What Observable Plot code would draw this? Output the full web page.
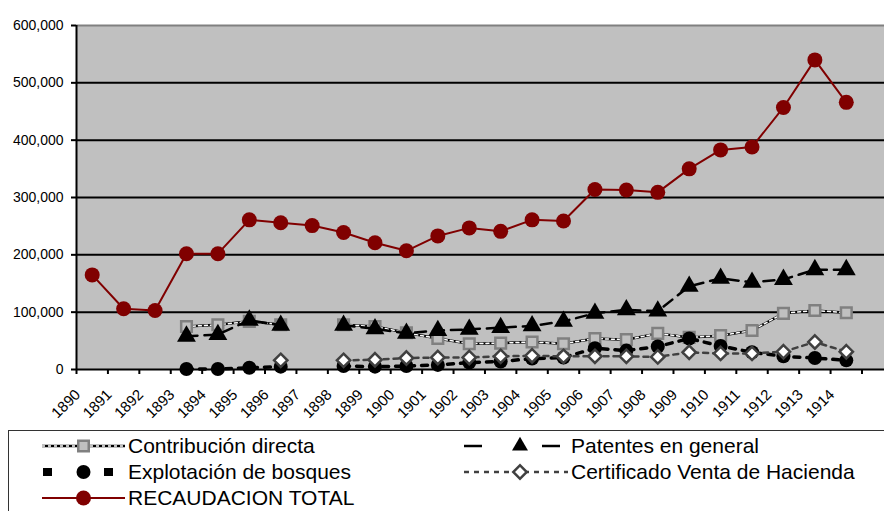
<!DOCTYPE html>
<html><head><meta charset="utf-8">
<script src="https://cdn.jsdelivr.net/npm/d3@7"></script>
<script src="https://cdn.jsdelivr.net/npm/@observablehq/plot@0.6"></script>
<style>
body{margin:0;background:#fff;font-family:"Liberation Sans",Arial,sans-serif;}
#chart svg,#legend svg{display:block}
</style></head><body><div id="chart"></div><div id="legend"></div>
<script>
const years = [1890,1891,1892,1893,1894,1895,1896,1897,1898,1899,1900,1901,1902,1903,1904,1905,1906,1907,1908,1909,1910,1911,1912,1913,1914];
const recaudacionTotal = [165000,106000,103000,202000,202000,261000,256000,251000,239000,221000,207000,233000,247000,241000,261000,259000,314000,313000,309000,350000,383000,388000,457000,540000,466000];
const contribucionDirecta = [null,null,null,75000,78000,84000,78000,null,78000,75000,64000,54000,45000,46000,48000,45000,54000,52000,63000,56000,59000,68000,98000,103000,99000];
const patentesGeneral = [null,null,null,58000,61000,86000,77000,null,77000,71000,63000,68000,70000,73000,76000,84000,98000,104000,102000,145000,159000,152000,157000,174000,174000];
const explotacionBosques = [null,null,null,1000,1000,3000,5000,null,6000,5000,6000,8000,12000,14000,19000,21000,37000,33000,40000,54000,41000,30000,23000,20000,16000];
const certificadoVenta = [null,null,null,null,null,null,16000,null,16000,17000,20000,21000,21000,23000,24000,23000,23000,23000,22000,30000,28000,28000,31000,48000,31000];
const yTicks = [0,100000,200000,300000,400000,500000,600000];
const seriesNames = ["Contribución directa","Patentes en general","Explotación de bosques","Certificado Venta de Hacienda","RECAUDACION TOTAL"];

const data = years.map((year,i)=>({
  year,
  total: recaudacionTotal[i],
  contribucion: contribucionDirecta[i],
  patentes: patentesGeneral[i],
  bosques: explotacionBosques[i],
  certificado: certificadoVenta[i]
}));

const step = 31.42;
const chart = Plot.plot({
  width: 884, height: 430,
  marginLeft: 76, marginRight: 0, marginTop: 25, marginBottom: 61,
  x: {type: "linear", domain: [years[0]-0.5, years[years.length-1]+1.5], range: [76, 76 + 26*step]},
  y: {domain: [0, 600000]},
  style: {fontFamily: "'Liberation Sans', Arial, sans-serif", fontSize: "14px", color: "#000", background: "#fff", overflow: "hidden"},
  marks: [
    Plot.frame({fill: "#c0c0c0"}),
    Plot.ruleY(yTicks.slice(0,-1), {stroke: "#000", strokeWidth: 2}),
    Plot.ruleY(yTicks.slice(-1), {stroke: "#808080", strokeWidth: 2}),
    Plot.axisY({ticks: yTicks, tickFormat: d3.format(","), tickSize: 5, tickPadding: 8, strokeWidth: 2, label: null, fontSize: 14}),
    Plot.axisX({ticks: d3.range(years[0]-0.5, years[years.length-1]+1.6, 1), tickFormat: () => "", tickSize: 5, strokeWidth: 2, label: null}),
    Plot.ruleX([years[0]-0.5], {stroke: "#000", strokeWidth: 2}),
    Plot.text(years, {x: d => d, frameAnchor: "bottom", text: d => String(d), rotate: -45, textAnchor: "end", dx: -11, dy: 26, fontSize: 15}),
    // Contribución directa
    Plot.lineY(data, {x: "year", y: "contribucion", stroke: "#000", strokeWidth: 2.5}),
    Plot.lineY(data, {x: "year", y: "contribucion", stroke: "#fff", strokeWidth: 1.5, strokeDasharray: "3,3"}),
    Plot.dot(data, {x: "year", y: "contribucion", symbol: "square", r: 6, fill: "#c0c0c0", stroke: "#808080", strokeWidth: 2.5}),
    // Patentes
    Plot.lineY(data, {x: "year", y: "patentes", stroke: "#000", strokeWidth: 2.5, strokeDasharray: "11,7"}),
    Plot.dot(data, {x: "year", y: "patentes", symbol: "triangle", r: 7, fill: "#000"}),
    // Explotación
    Plot.lineY(data, {x: "year", y: "bosques", stroke: "#000", strokeWidth: 3.5, strokeDasharray: "6,7"}),
    Plot.dot(data, {x: "year", y: "bosques", symbol: "circle", r: 7, fill: "#000"}),
    // Certificado
    Plot.lineY(data, {x: "year", y: "certificado", stroke: "#404040", strokeWidth: 2.5, strokeDasharray: "5,5"}),
    Plot.dot(data, {x: "year", y: "certificado", symbol: "diamond2", r: 6, fill: "#fff", stroke: "#404040", strokeWidth: 2.5}),
    // Total
    Plot.lineY(data, {x: "year", y: "total", stroke: "#800000", strokeWidth: 2}),
    Plot.dot(data, {x: "year", y: "total", symbol: "circle", r: 7.5, fill: "#800000"})
  ]
});
document.getElementById("chart").append(chart);

// Legend
const lg = d3.select("#legend").append("svg").attr("width", 884).attr("height", 81)
  .style("font-family", "'Liberation Sans', Arial, sans-serif");
lg.append("rect").attr("x", 8.5).attr("y", 0.5).attr("width", 900).attr("height", 100)
  .attr("fill", "#fff").attr("stroke", "#333").attr("stroke-width", 1);
const rows = [16, 42, 68];
const keys = [
  {name: seriesNames[0], kx: 42, kw: 83, row: 0, kind: "contrib"},
  {name: seriesNames[1], kx: 464, kw: 104, row: 0, kind: "patentes"},
  {name: seriesNames[2], kx: 42, kw: 83, row: 1, kind: "bosques"},
  {name: seriesNames[3], kx: 464, kw: 104, row: 1, kind: "cert"},
  {name: seriesNames[4], kx: 42, kw: 83, row: 2, kind: "total"}
];
keys.forEach(k => {
  const y = rows[k.row], x0 = k.kx, x1 = k.kx + k.kw;
  const cx = k.kw > 90 ? x0 + 56 : (x0 + x1)/2;
  const g = lg.append("g");
  const line = (stroke, sw, dash) => g.append("line").attr("x1", x0).attr("x2", x1).attr("y1", y).attr("y2", y)
    .attr("stroke", stroke).attr("stroke-width", sw).attr("stroke-dasharray", dash || null);
  if (k.kind === "contrib") {
    line("#000", 2.5); line("#fff", 1.5, "3,3");
    g.append("path").attr("transform", `translate(${cx},${y})`).attr("d", d3.symbol(d3.symbolSquare, 110)())
      .attr("fill", "#c0c0c0").attr("stroke", "#808080").attr("stroke-width", 2.5);
  } else if (k.kind === "patentes") {
    g.append("line").attr("x1", x0).attr("x2", x0+18).attr("y1", y).attr("y2", y).attr("stroke", "#000").attr("stroke-width", 2.5);
    g.append("line").attr("x1", x1-26).attr("x2", x1-8).attr("y1", y).attr("y2", y).attr("stroke", "#000").attr("stroke-width", 2.5);
    g.append("path").attr("transform", `translate(${cx},${y})`).attr("d", d3.symbol(d3.symbolTriangle, 110)()).attr("fill", "#000");
  } else if (k.kind === "bosques") {
    g.append("rect").attr("x", x0+1).attr("y", y-4).attr("width", 9).attr("height", 8).attr("fill", "#000");
    g.append("rect").attr("x", x1-21).attr("y", y-4).attr("width", 9).attr("height", 8).attr("fill", "#000");
    g.append("circle").attr("cx", cx).attr("cy", y).attr("r", 7).attr("fill", "#000");
  } else if (k.kind === "cert") {
    line("#404040", 2.5, "5,5");
    g.append("path").attr("transform", `translate(${cx},${y}) rotate(45)`).attr("d", d3.symbol(d3.symbolSquare, 90)())
      .attr("fill", "#fff").attr("stroke", "#404040").attr("stroke-width", 2.5);
  } else {
    line("#800000", 2);
    g.append("circle").attr("cx", cx).attr("cy", y).attr("r", 7.5).attr("fill", "#800000");
  }
  lg.append("text").attr("x", x1 + 3).attr("y", y + 7).attr("font-size", 21).attr("fill", "#000").text(k.name);
});
</script>
</body></html>
